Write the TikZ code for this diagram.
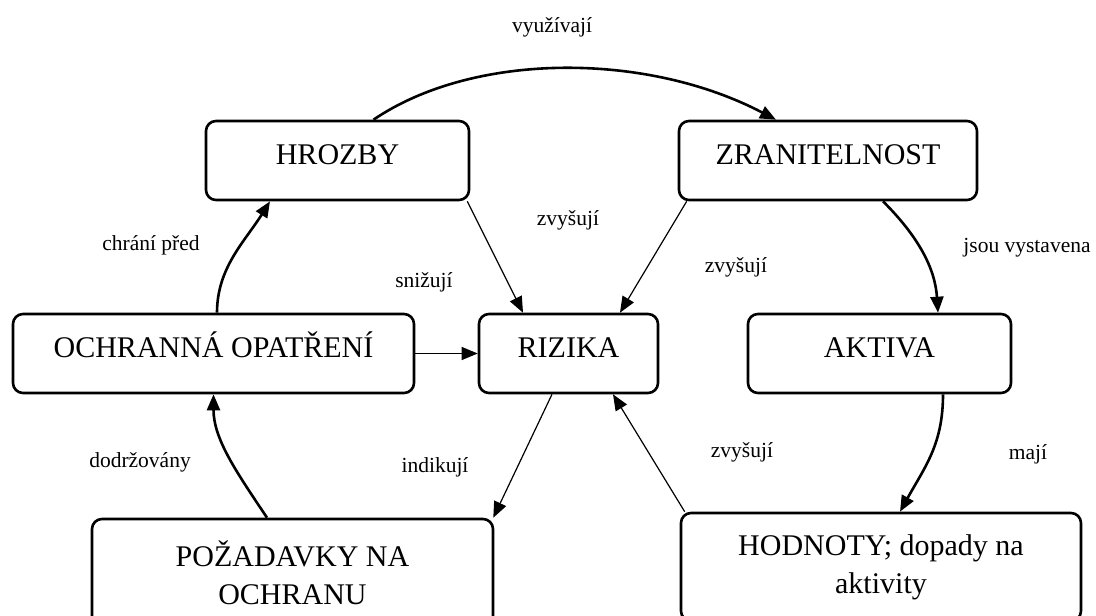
\documentclass[tikz,border=0pt]{standalone}
\usepackage{fontspec}
\setmainfont{Liberation Serif}
\usetikzlibrary{arrows.meta}
\begin{document}
\begin{tikzpicture}[x=1pt,y=-1pt,
  basebox/.style={draw,line width=2.6pt,rounded corners=10pt,inner sep=0pt,
    font=\fontsize{30}{38}\selectfont},
  onebox/.style={basebox,minimum height=79pt,text height=20pt,text depth=12pt},
  twobox/.style={basebox,minimum height=108pt,align=center},
  cyclearrow/.style={line width=2.6pt,-{Triangle[length=16pt,width=13pt]}},
  thinarrow/.style={line width=1.2pt,-{Triangle[length=16pt,width=13pt]}},
  lbl/.style={font=\fontsize{21.5}{24}\selectfont,inner sep=0pt}]
  \useasboundingbox (0,0) rectangle (1096,616);
  % boxes
  \node[onebox,minimum width=263pt] (hrozby) at (337.5,160.5) {HROZBY};
  \node[onebox,minimum width=298pt] (zranit) at (828,160.5) {ZRANITELNOST};
  \node[onebox,minimum width=401pt] (ochrana) at (213.5,353.5) {OCHRANNÁ OPATŘENÍ};
  \node[onebox,minimum width=179pt] (rizika) at (568.5,353.5) {RIZIKA};
  \node[onebox,minimum width=263pt] (aktiva) at (879.5,353.5) {AKTIVA};
  \node[twobox,minimum width=401pt] (pozadavky) at (292.5,573) {POŽADAVKY NA\\OCHRANU};
  \node[twobox,minimum width=400pt] (hodnoty) at (881,567) {HODNOTY; dopady na\\aktivity};
  % outer cycle
  \draw[cyclearrow] ([xshift=36pt]hrozby.north) .. controls +(100,-68) and +(-130,-68) .. ([xshift=-52pt]zranit.north);
  \draw[cyclearrow] ([xshift=55pt]zranit.south) .. controls +(35,35) and +(-3,-45) .. ([xshift=58.5pt]aktiva.north);
  \draw[cyclearrow] ([xshift=63.5pt]aktiva.south) .. controls +(0,50) and +(25,-45) .. ([xshift=19pt]hodnoty.north);
  \draw[cyclearrow] ([xshift=-25.5pt]pozadavky.north) .. controls +(-30,-45) and +(0,45) .. (ochrana.south);
  \draw[cyclearrow] ([xshift=3.5pt]ochrana.north) .. controls +(0,-45) and +(-25,40) .. ([xshift=-67.5pt]hrozby.south);
  % links to the risks
  \draw[thinarrow] ([xshift=-3pt]hrozby.south east) -- ([xshift=-45.5pt]rizika.north);
  \draw[thinarrow] ([xshift=9pt]zranit.south west) -- ([xshift=51.5pt]rizika.north);
  \draw[thinarrow] (ochrana.east) -- (rizika.west);
  \draw[thinarrow] ([xshift=-16.5pt]rizika.south) -- ([xshift=-1pt]pozadavky.north east);
  \draw[thinarrow] ([xshift=5pt]hodnoty.north west) -- ([xshift=44.5pt]rizika.south);
  % labels
  \node[lbl] (l-vyuz) at (552,27) {využívají};
  \node[lbl] (l-zvys1) at (568,220) {zvyšují};
  \node[lbl] (l-zvys2) at (736,267) {zvyšují};
  \node[lbl] (l-vyst) at (1027,248) {jsou vystavena};
  \node[lbl] (l-chrani) at (151,245) {chrání před};
  \node[lbl] (l-sniz) at (424,282) {snižují};
  \node[lbl] (l-dodrz) at (140,462) {dodržovány};
  \node[lbl] (l-indik) at (435,467) {indikují};
  \node[lbl] (l-zvys3) at (742,452) {zvyšují};
  \node[lbl] (l-maji) at (1028,454) {mají};
\end{tikzpicture}
\end{document}
